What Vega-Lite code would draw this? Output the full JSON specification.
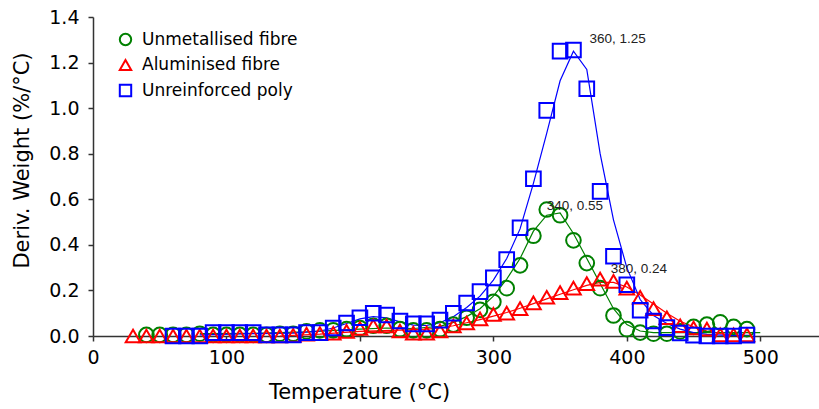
{
  "$schema": "https://vega.github.io/schema/vega-lite/v6.json",
  "autosize": "none",
  "width": 726,
  "height": 319,
  "padding": {"left": 93, "top": 17, "right": 0, "bottom": 73},
  "background": "white",
  "config": {
    "view": {"stroke": null},
    "font": "DejaVu Sans",
    "axis": {
      "grid": false,
      "domainColor": "#333333",
      "tickColor": "#333333",
      "domainWidth": 1.5,
      "tickWidth": 1.5,
      "tickSize": 5,
      "labelFlush": false,
      "labelColor": "#000000",
      "titleColor": "#000000",
      "labelFont": "DejaVu Sans",
      "titleFont": "DejaVu Sans",
      "labelFontSize": 19,
      "titleFontSize": 21,
      "titleFontWeight": "normal"
    }
  },
  "datasets": {
    "markers": [
      {"series": "Unmetallised fibre", "T": 40, "v": 0.005},
      {"series": "Unmetallised fibre", "T": 50, "v": 0.005},
      {"series": "Unmetallised fibre", "T": 60, "v": 0.005},
      {"series": "Unmetallised fibre", "T": 70, "v": 0.005},
      {"series": "Unmetallised fibre", "T": 80, "v": 0.01},
      {"series": "Unmetallised fibre", "T": 90, "v": 0.005},
      {"series": "Unmetallised fibre", "T": 100, "v": 0.005},
      {"series": "Unmetallised fibre", "T": 110, "v": 0.005},
      {"series": "Unmetallised fibre", "T": 120, "v": 0.005},
      {"series": "Unmetallised fibre", "T": 130, "v": 0.005},
      {"series": "Unmetallised fibre", "T": 140, "v": 0.01},
      {"series": "Unmetallised fibre", "T": 150, "v": 0.01},
      {"series": "Unmetallised fibre", "T": 160, "v": 0.02},
      {"series": "Unmetallised fibre", "T": 170, "v": 0.025},
      {"series": "Unmetallised fibre", "T": 180, "v": 0.025},
      {"series": "Unmetallised fibre", "T": 190, "v": 0.03},
      {"series": "Unmetallised fibre", "T": 200, "v": 0.035},
      {"series": "Unmetallised fibre", "T": 210, "v": 0.045},
      {"series": "Unmetallised fibre", "T": 220, "v": 0.045},
      {"series": "Unmetallised fibre", "T": 230, "v": 0.03},
      {"series": "Unmetallised fibre", "T": 240, "v": 0.025},
      {"series": "Unmetallised fibre", "T": 250, "v": 0.025},
      {"series": "Unmetallised fibre", "T": 260, "v": 0.03},
      {"series": "Unmetallised fibre", "T": 270, "v": 0.05},
      {"series": "Unmetallised fibre", "T": 280, "v": 0.08},
      {"series": "Unmetallised fibre", "T": 290, "v": 0.115},
      {"series": "Unmetallised fibre", "T": 300, "v": 0.15},
      {"series": "Unmetallised fibre", "T": 310, "v": 0.21},
      {"series": "Unmetallised fibre", "T": 320, "v": 0.31},
      {"series": "Unmetallised fibre", "T": 330, "v": 0.44},
      {"series": "Unmetallised fibre", "T": 340, "v": 0.555},
      {"series": "Unmetallised fibre", "T": 350, "v": 0.53},
      {"series": "Unmetallised fibre", "T": 360, "v": 0.42},
      {"series": "Unmetallised fibre", "T": 370, "v": 0.32},
      {"series": "Unmetallised fibre", "T": 380, "v": 0.21},
      {"series": "Unmetallised fibre", "T": 390, "v": 0.09},
      {"series": "Unmetallised fibre", "T": 400, "v": 0.03},
      {"series": "Unmetallised fibre", "T": 410, "v": 0.015},
      {"series": "Unmetallised fibre", "T": 420, "v": 0.01},
      {"series": "Unmetallised fibre", "T": 430, "v": 0.01},
      {"series": "Unmetallised fibre", "T": 440, "v": 0.02},
      {"series": "Unmetallised fibre", "T": 450, "v": 0.04},
      {"series": "Unmetallised fibre", "T": 460, "v": 0.05},
      {"series": "Unmetallised fibre", "T": 470, "v": 0.06},
      {"series": "Unmetallised fibre", "T": 480, "v": 0.04},
      {"series": "Unmetallised fibre", "T": 490, "v": 0.03},

      {"series": "Aluminised fibre", "T": 30, "v": 0.0},
      {"series": "Aluminised fibre", "T": 40, "v": 0.0},
      {"series": "Aluminised fibre", "T": 50, "v": 0.0},
      {"series": "Aluminised fibre", "T": 60, "v": 0.0},
      {"series": "Aluminised fibre", "T": 70, "v": 0.0},
      {"series": "Aluminised fibre", "T": 80, "v": 0.0},
      {"series": "Aluminised fibre", "T": 90, "v": 0.0},
      {"series": "Aluminised fibre", "T": 100, "v": 0.0},
      {"series": "Aluminised fibre", "T": 110, "v": 0.0},
      {"series": "Aluminised fibre", "T": 120, "v": 0.0},
      {"series": "Aluminised fibre", "T": 130, "v": 0.0},
      {"series": "Aluminised fibre", "T": 140, "v": 0.0},
      {"series": "Aluminised fibre", "T": 150, "v": 0.003},
      {"series": "Aluminised fibre", "T": 160, "v": 0.008},
      {"series": "Aluminised fibre", "T": 170, "v": 0.01},
      {"series": "Aluminised fibre", "T": 180, "v": 0.012},
      {"series": "Aluminised fibre", "T": 190, "v": 0.02},
      {"series": "Aluminised fibre", "T": 200, "v": 0.033},
      {"series": "Aluminised fibre", "T": 210, "v": 0.044},
      {"series": "Aluminised fibre", "T": 220, "v": 0.044},
      {"series": "Aluminised fibre", "T": 230, "v": 0.022},
      {"series": "Aluminised fibre", "T": 240, "v": 0.013},
      {"series": "Aluminised fibre", "T": 250, "v": 0.013},
      {"series": "Aluminised fibre", "T": 260, "v": 0.022},
      {"series": "Aluminised fibre", "T": 270, "v": 0.044},
      {"series": "Aluminised fibre", "T": 280, "v": 0.057},
      {"series": "Aluminised fibre", "T": 290, "v": 0.075},
      {"series": "Aluminised fibre", "T": 300, "v": 0.095},
      {"series": "Aluminised fibre", "T": 310, "v": 0.10},
      {"series": "Aluminised fibre", "T": 320, "v": 0.12},
      {"series": "Aluminised fibre", "T": 330, "v": 0.145},
      {"series": "Aluminised fibre", "T": 340, "v": 0.17},
      {"series": "Aluminised fibre", "T": 350, "v": 0.19},
      {"series": "Aluminised fibre", "T": 360, "v": 0.21},
      {"series": "Aluminised fibre", "T": 370, "v": 0.23},
      {"series": "Aluminised fibre", "T": 380, "v": 0.25},
      {"series": "Aluminised fibre", "T": 390, "v": 0.24},
      {"series": "Aluminised fibre", "T": 400, "v": 0.21},
      {"series": "Aluminised fibre", "T": 410, "v": 0.17},
      {"series": "Aluminised fibre", "T": 420, "v": 0.12},
      {"series": "Aluminised fibre", "T": 430, "v": 0.08},
      {"series": "Aluminised fibre", "T": 440, "v": 0.045},
      {"series": "Aluminised fibre", "T": 450, "v": 0.035},
      {"series": "Aluminised fibre", "T": 460, "v": 0.03},
      {"series": "Aluminised fibre", "T": 470, "v": 0.005},
      {"series": "Aluminised fibre", "T": 480, "v": 0.005},
      {"series": "Aluminised fibre", "T": 490, "v": 0.005},

      {"series": "Unreinforced poly", "T": 60, "v": 0.0},
      {"series": "Unreinforced poly", "T": 70, "v": 0.0},
      {"series": "Unreinforced poly", "T": 80, "v": 0.0},
      {"series": "Unreinforced poly", "T": 90, "v": 0.015},
      {"series": "Unreinforced poly", "T": 100, "v": 0.015},
      {"series": "Unreinforced poly", "T": 110, "v": 0.015},
      {"series": "Unreinforced poly", "T": 120, "v": 0.015},
      {"series": "Unreinforced poly", "T": 130, "v": 0.005},
      {"series": "Unreinforced poly", "T": 140, "v": 0.005},
      {"series": "Unreinforced poly", "T": 150, "v": 0.005},
      {"series": "Unreinforced poly", "T": 160, "v": 0.015},
      {"series": "Unreinforced poly", "T": 170, "v": 0.015},
      {"series": "Unreinforced poly", "T": 180, "v": 0.035},
      {"series": "Unreinforced poly", "T": 190, "v": 0.057},
      {"series": "Unreinforced poly", "T": 200, "v": 0.08},
      {"series": "Unreinforced poly", "T": 210, "v": 0.10},
      {"series": "Unreinforced poly", "T": 220, "v": 0.092},
      {"series": "Unreinforced poly", "T": 230, "v": 0.066},
      {"series": "Unreinforced poly", "T": 240, "v": 0.053},
      {"series": "Unreinforced poly", "T": 250, "v": 0.053},
      {"series": "Unreinforced poly", "T": 260, "v": 0.07},
      {"series": "Unreinforced poly", "T": 270, "v": 0.10},
      {"series": "Unreinforced poly", "T": 280, "v": 0.145},
      {"series": "Unreinforced poly", "T": 290, "v": 0.195},
      {"series": "Unreinforced poly", "T": 300, "v": 0.255},
      {"series": "Unreinforced poly", "T": 310, "v": 0.335},
      {"series": "Unreinforced poly", "T": 320, "v": 0.475},
      {"series": "Unreinforced poly", "T": 330, "v": 0.69},
      {"series": "Unreinforced poly", "T": 340, "v": 0.99},
      {"series": "Unreinforced poly", "T": 350, "v": 1.25},
      {"series": "Unreinforced poly", "T": 360, "v": 1.255},
      {"series": "Unreinforced poly", "T": 370, "v": 1.085},
      {"series": "Unreinforced poly", "T": 380, "v": 0.635},
      {"series": "Unreinforced poly", "T": 390, "v": 0.35},
      {"series": "Unreinforced poly", "T": 400, "v": 0.225},
      {"series": "Unreinforced poly", "T": 410, "v": 0.113},
      {"series": "Unreinforced poly", "T": 420, "v": 0.066},
      {"series": "Unreinforced poly", "T": 430, "v": 0.037},
      {"series": "Unreinforced poly", "T": 440, "v": 0.013},
      {"series": "Unreinforced poly", "T": 450, "v": 0.004},
      {"series": "Unreinforced poly", "T": 460, "v": 0.0},
      {"series": "Unreinforced poly", "T": 470, "v": 0.0},
      {"series": "Unreinforced poly", "T": 480, "v": 0.0},
      {"series": "Unreinforced poly", "T": 490, "v": 0.004}
    ],
    "fits": [
      {"series": "Unmetallised fibre", "T": 80, "v": 0.01},
      {"series": "Unmetallised fibre", "T": 120, "v": 0.012},
      {"series": "Unmetallised fibre", "T": 160, "v": 0.018},
      {"series": "Unmetallised fibre", "T": 200, "v": 0.03},
      {"series": "Unmetallised fibre", "T": 220, "v": 0.035},
      {"series": "Unmetallised fibre", "T": 240, "v": 0.033},
      {"series": "Unmetallised fibre", "T": 260, "v": 0.042},
      {"series": "Unmetallised fibre", "T": 270, "v": 0.06},
      {"series": "Unmetallised fibre", "T": 280, "v": 0.085},
      {"series": "Unmetallised fibre", "T": 290, "v": 0.12},
      {"series": "Unmetallised fibre", "T": 300, "v": 0.175},
      {"series": "Unmetallised fibre", "T": 310, "v": 0.25},
      {"series": "Unmetallised fibre", "T": 320, "v": 0.34},
      {"series": "Unmetallised fibre", "T": 330, "v": 0.46},
      {"series": "Unmetallised fibre", "T": 340, "v": 0.53},
      {"series": "Unmetallised fibre", "T": 350, "v": 0.54},
      {"series": "Unmetallised fibre", "T": 360, "v": 0.45},
      {"series": "Unmetallised fibre", "T": 370, "v": 0.34},
      {"series": "Unmetallised fibre", "T": 380, "v": 0.23},
      {"series": "Unmetallised fibre", "T": 390, "v": 0.12},
      {"series": "Unmetallised fibre", "T": 400, "v": 0.05},
      {"series": "Unmetallised fibre", "T": 410, "v": 0.022},
      {"series": "Unmetallised fibre", "T": 420, "v": 0.015},
      {"series": "Unmetallised fibre", "T": 460, "v": 0.015},
      {"series": "Unmetallised fibre", "T": 500, "v": 0.015},

      {"series": "Aluminised fibre", "T": 140, "v": 0.0},
      {"series": "Aluminised fibre", "T": 170, "v": 0.008},
      {"series": "Aluminised fibre", "T": 200, "v": 0.02},
      {"series": "Aluminised fibre", "T": 230, "v": 0.026},
      {"series": "Aluminised fibre", "T": 250, "v": 0.03},
      {"series": "Aluminised fibre", "T": 260, "v": 0.035},
      {"series": "Aluminised fibre", "T": 270, "v": 0.045},
      {"series": "Aluminised fibre", "T": 280, "v": 0.058},
      {"series": "Aluminised fibre", "T": 290, "v": 0.072},
      {"series": "Aluminised fibre", "T": 300, "v": 0.087},
      {"series": "Aluminised fibre", "T": 310, "v": 0.103},
      {"series": "Aluminised fibre", "T": 320, "v": 0.122},
      {"series": "Aluminised fibre", "T": 330, "v": 0.142},
      {"series": "Aluminised fibre", "T": 340, "v": 0.163},
      {"series": "Aluminised fibre", "T": 350, "v": 0.183},
      {"series": "Aluminised fibre", "T": 360, "v": 0.203},
      {"series": "Aluminised fibre", "T": 370, "v": 0.222},
      {"series": "Aluminised fibre", "T": 380, "v": 0.235},
      {"series": "Aluminised fibre", "T": 390, "v": 0.235},
      {"series": "Aluminised fibre", "T": 400, "v": 0.215},
      {"series": "Aluminised fibre", "T": 410, "v": 0.18},
      {"series": "Aluminised fibre", "T": 420, "v": 0.14},
      {"series": "Aluminised fibre", "T": 430, "v": 0.1},
      {"series": "Aluminised fibre", "T": 440, "v": 0.065},
      {"series": "Aluminised fibre", "T": 450, "v": 0.04},
      {"series": "Aluminised fibre", "T": 460, "v": 0.022},
      {"series": "Aluminised fibre", "T": 470, "v": 0.01},
      {"series": "Aluminised fibre", "T": 485, "v": 0.0},

      {"series": "Unreinforced poly", "T": 80, "v": 0.005},
      {"series": "Unreinforced poly", "T": 120, "v": 0.01},
      {"series": "Unreinforced poly", "T": 150, "v": 0.013},
      {"series": "Unreinforced poly", "T": 170, "v": 0.022},
      {"series": "Unreinforced poly", "T": 180, "v": 0.035},
      {"series": "Unreinforced poly", "T": 190, "v": 0.055},
      {"series": "Unreinforced poly", "T": 200, "v": 0.075},
      {"series": "Unreinforced poly", "T": 210, "v": 0.085},
      {"series": "Unreinforced poly", "T": 220, "v": 0.08},
      {"series": "Unreinforced poly", "T": 230, "v": 0.062},
      {"series": "Unreinforced poly", "T": 240, "v": 0.048},
      {"series": "Unreinforced poly", "T": 250, "v": 0.046},
      {"series": "Unreinforced poly", "T": 260, "v": 0.058},
      {"series": "Unreinforced poly", "T": 270, "v": 0.085},
      {"series": "Unreinforced poly", "T": 280, "v": 0.125},
      {"series": "Unreinforced poly", "T": 290, "v": 0.175},
      {"series": "Unreinforced poly", "T": 300, "v": 0.245},
      {"series": "Unreinforced poly", "T": 310, "v": 0.34},
      {"series": "Unreinforced poly", "T": 320, "v": 0.47},
      {"series": "Unreinforced poly", "T": 330, "v": 0.67},
      {"series": "Unreinforced poly", "T": 340, "v": 0.89},
      {"series": "Unreinforced poly", "T": 350, "v": 1.12},
      {"series": "Unreinforced poly", "T": 360, "v": 1.25},
      {"series": "Unreinforced poly", "T": 370, "v": 1.17},
      {"series": "Unreinforced poly", "T": 380, "v": 0.80},
      {"series": "Unreinforced poly", "T": 390, "v": 0.51},
      {"series": "Unreinforced poly", "T": 400, "v": 0.30},
      {"series": "Unreinforced poly", "T": 410, "v": 0.16},
      {"series": "Unreinforced poly", "T": 420, "v": 0.09},
      {"series": "Unreinforced poly", "T": 430, "v": 0.055},
      {"series": "Unreinforced poly", "T": 440, "v": 0.03},
      {"series": "Unreinforced poly", "T": 450, "v": 0.015},
      {"series": "Unreinforced poly", "T": 460, "v": 0.007},
      {"series": "Unreinforced poly", "T": 475, "v": 0.003},
      {"series": "Unreinforced poly", "T": 492, "v": 0.003}
    ],
    "labels": [
      {"label": "360, 1.25", "T": 372, "v": 1.305},
      {"label": "340, 0.55", "T": 340, "v": 0.57},
      {"label": "380, 0.24", "T": 388, "v": 0.295}
    ]
  },
  "layer": [
    {
      "data": {"name": "fits"},
      "transform": [{"filter": "datum.series === 'Unmetallised fibre'"}],
      "mark": {"type": "line", "strokeWidth": 1.2, "color": "#008000"},
      "encoding": {
        "x": {"field": "T", "type": "quantitative"},
        "y": {"field": "v", "type": "quantitative"}
      }
    },
    {
      "data": {"name": "fits"},
      "transform": [{"filter": "datum.series === 'Aluminised fibre'"}],
      "mark": {"type": "line", "strokeWidth": 1.2, "color": "#ff0000"},
      "encoding": {
        "x": {"field": "T", "type": "quantitative"},
        "y": {"field": "v", "type": "quantitative"}
      }
    },
    {
      "data": {"name": "fits"},
      "transform": [{"filter": "datum.series === 'Unreinforced poly'"}],
      "mark": {"type": "line", "strokeWidth": 1.2, "color": "#0000ff"},
      "encoding": {
        "x": {"field": "T", "type": "quantitative"},
        "y": {"field": "v", "type": "quantitative"}
      }
    },
    {
      "data": {"name": "markers"},
      "mark": {"type": "point", "filled": false, "strokeWidth": 2, "size": 215, "opacity": 1},
      "encoding": {
        "x": {"field": "T", "type": "quantitative",
          "scale": {"domain": [0, 544], "nice": false, "zero": false},
          "axis": {"values": [0, 100, 200, 300, 400, 500], "title": "Temperature (°C)", "labelPadding": 7, "titleX": 266, "titleY": 56, "titleAlign": "center", "titleBaseline": "middle"}},
        "y": {"field": "v", "type": "quantitative",
          "scale": {"domain": [0, 1.4], "nice": false},
          "axis": {"values": [0, 0.2, 0.4, 0.6, 0.8, 1.0, 1.2, 1.4], "format": ".1f", "title": "Deriv. Weight (%/°C)", "labelPadding": 9, "titleX": -71, "titleY": 143, "titleAngle": -90, "titleAlign": "center", "titleBaseline": "middle"}},
        "color": {"field": "series", "type": "nominal", "sort": null,
          "scale": {"domain": ["Unmetallised fibre", "Aluminised fibre", "Unreinforced poly"], "range": ["#008000", "#ff0000", "#0000ff"]},
          "legend": {"title": null, "orient": "none", "legendX": 24, "legendY": 14, "labelFontSize": 17, "labelFont": "DejaVu Sans", "labelColor": "#000000", "symbolSize": 130, "symbolStrokeWidth": 2, "rowPadding": 5.5, "labelOffset": 8}},
        "shape": {"field": "series", "type": "nominal", "sort": null,
          "scale": {"domain": ["Unmetallised fibre", "Aluminised fibre", "Unreinforced poly"], "range": ["circle", "triangle-up", "square"]}}
      }
    },
    {
      "data": {"name": "labels"},
      "mark": {"type": "text", "align": "left", "baseline": "middle", "fontSize": 13.5, "font": "Liberation Sans", "color": "#222222"},
      "encoding": {
        "x": {"field": "T", "type": "quantitative"},
        "y": {"field": "v", "type": "quantitative"},
        "text": {"field": "label"}
      }
    }
  ]
}
